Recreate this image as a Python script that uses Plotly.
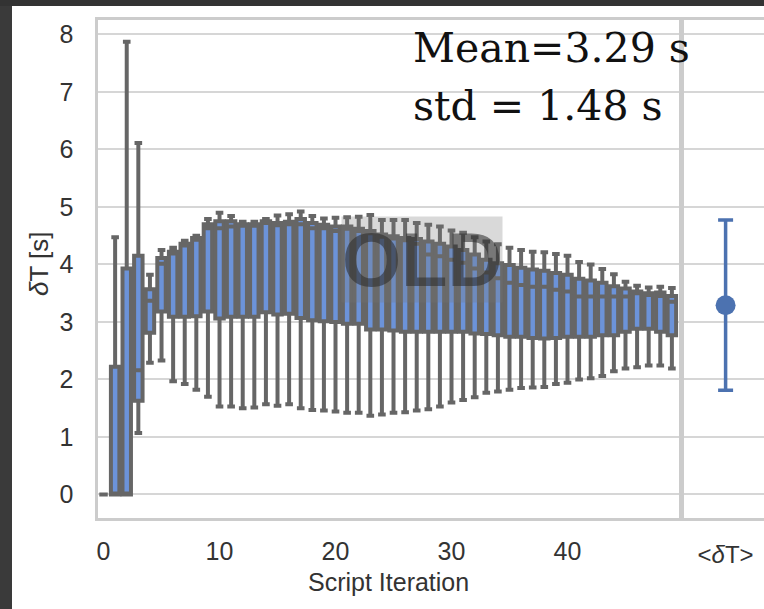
import plotly.graph_objects as go

# ---------------- data ----------------
iterations = list(range(50))

upper_whisker = [0.00, 4.47, 7.87, 6.11, 3.82, 4.25, 4.29, 4.41, 4.50, 4.79,
                 4.90, 4.84, 4.74, 4.74, 4.79, 4.85, 4.87, 4.92, 4.84, 4.80,
                 4.81, 4.82, 4.83, 4.86, 4.77, 4.77, 4.77, 4.72, 4.69, 4.66,
                 4.59, 4.55, 4.47, 4.40, 4.35, 4.29, 4.25, 4.22, 4.21, 4.18,
                 4.15, 4.04, 4.00, 3.92, 3.83, 3.70, 3.63, 3.60, 3.61, 3.59]

q3_values = [0.00, 2.22, 3.93, 4.15, 3.57, 4.11, 4.22, 4.36, 4.46, 4.70,
             4.75, 4.75, 4.70, 4.70, 4.75, 4.72, 4.74, 4.79, 4.72, 4.69,
             4.66, 4.66, 4.62, 4.58, 4.52, 4.49, 4.46, 4.44, 4.40, 4.36,
             4.31, 4.25, 4.17, 4.08, 4.02, 3.99, 3.94, 3.91, 3.89, 3.85,
             3.82, 3.75, 3.72, 3.68, 3.62, 3.58, 3.53, 3.50, 3.51, 3.45]

median_values = [0.00, 0.00, 0.00, 2.16, 3.37, 4.01, 4.19, 4.33, 4.43, 4.63,
                 4.63, 4.66, 4.67, 4.67, 4.72, 4.68, 4.70, 4.70, 4.63, 4.63,
                 4.58, 4.62, 4.58, 4.54, 4.48, 4.45, 4.42, 4.36, 4.17, 4.14,
                 4.08, 4.03, 3.93, 3.86, 3.76, 3.68, 3.64, 3.61, 3.61, 3.56,
                 3.53, 3.44, 3.44, 3.44, 3.44, 3.44, 3.50, 3.47, 3.45, 3.35]

q1_values = [0.00, 0.00, 0.00, 1.63, 2.81, 3.18, 3.09, 3.09, 3.10, 3.18,
             3.06, 3.09, 3.09, 3.09, 3.17, 3.13, 3.14, 3.07, 3.03, 3.01,
             3.00, 2.97, 2.97, 2.87, 2.87, 2.85, 2.83, 2.83, 2.83, 2.83,
             2.83, 2.83, 2.80, 2.79, 2.77, 2.74, 2.74, 2.72, 2.71, 2.72,
             2.74, 2.74, 2.74, 2.77, 2.77, 2.83, 2.88, 2.88, 2.83, 2.77]

lower_whisker = [0.00, 0.00, 0.00, 1.07, 2.29, 2.33, 1.97, 1.92, 1.82, 1.70,
                 1.53, 1.53, 1.50, 1.51, 1.57, 1.54, 1.57, 1.50, 1.47, 1.46,
                 1.44, 1.42, 1.42, 1.37, 1.39, 1.42, 1.43, 1.46, 1.48, 1.53,
                 1.60, 1.64, 1.69, 1.77, 1.79, 1.82, 1.85, 1.86, 1.87, 1.92,
                 1.94, 2.00, 2.02, 2.06, 2.14, 2.19, 2.21, 2.24, 2.24, 2.19]

mean_dt = 3.29
std_dt = 1.48
summary_label = "&lt;<i>δ</i>T&gt;"

x_tick_vals = [0, 10, 20, 30, 40]
y_tick_vals = [0, 1, 2, 3, 4, 5, 6, 7, 8]

# ---------------- layout helpers ----------------
W, H = 764, 609


def px(x):
    return x / W


def py(y):
    return 1 - y / H


SANS = "Liberation Sans, Arial, sans-serif"
TICK_COLOR = "#333333"
SPINE = "#cccccc"
GRID = "#d6d6d6"

fig = go.Figure()

fig.add_trace(go.Box(
    x=iterations,
    q1=q1_values,
    median=median_values,
    q3=q3_values,
    lowerfence=lower_whisker,
    upperfence=upper_whisker,
    width=0.73,
    whiskerwidth=0.9,
    fillcolor="#6c93d9",
    line=dict(color="#666666", width=4),
    boxpoints=False,
    showlegend=False,
    xaxis="x", yaxis="y",
))

fig.add_trace(go.Scatter(
    x=[summary_label],
    y=[mean_dt],
    mode="markers",
    marker=dict(color="#4c72b0", size=20),
    error_y=dict(type="data", array=[std_dt], color="#4c72b0",
                 thickness=3.5, width=7.5),
    showlegend=False,
    xaxis="x2", yaxis="y2",
))

y_domain = [py(518), py(20)]
y_range = [-0.41, 8.25]

fig.update_layout(
    width=W, height=H,
    margin=dict(l=0, r=0, t=0, b=0, autoexpand=False),
    paper_bgcolor="white",
    plot_bgcolor="white",
    xaxis=dict(
        domain=[px(97.5), px(678.5)],
        range=[-0.52, 49.57],
        tickvals=x_tick_vals,
        showgrid=False, zeroline=False,
        showline=True, linecolor=SPINE, linewidth=3, mirror=True,
        ticks="", ticklabelstandoff=9,
        tickfont=dict(family=SANS, size=25, color=TICK_COLOR),
        anchor="y",
    ),
    yaxis=dict(
        domain=y_domain,
        range=y_range,
        tickvals=y_tick_vals,
        showgrid=True, gridcolor=GRID, gridwidth=2,
        zeroline=False,
        showline=True, linecolor=SPINE, linewidth=3, mirror=True,
        ticks="", ticklabelstandoff=16,
        tickfont=dict(family=SANS, size=25, color=TICK_COLOR),
        anchor="x",
    ),
    xaxis2=dict(
        domain=[px(684), 1.0],
        type="category",
        range=[-0.52, 0.48],
        showgrid=False, zeroline=False,
        showline=True, linecolor=SPINE, linewidth=3, mirror=True,
        ticks="", ticklabelstandoff=13,
        tickfont=dict(family=SANS, size=24, color=TICK_COLOR),
        anchor="y2",
    ),
    yaxis2=dict(
        domain=y_domain,
        range=y_range,
        tickvals=y_tick_vals,
        showticklabels=False,
        showgrid=True, gridcolor=GRID, gridwidth=2,
        zeroline=False,
        showline=True, linecolor=SPINE, linewidth=3, mirror=False,
        ticks="",
        anchor="x2",
    ),
    shapes=[
        dict(type="rect", xref="paper", yref="paper",
             x0=0, x1=px(12), y0=0, y1=1,
             fillcolor="#3a3a3a", line=dict(width=0), layer="below"),
        dict(type="rect", xref="paper", yref="paper",
             x0=0, x1=1, y0=py(6), y1=1,
             fillcolor="#333333", line=dict(width=0), layer="below"),
    ],
    annotations=[
        dict(text="<i>δ</i>T [s]", xref="paper", yref="paper",
             x=px(39), y=py(264), textangle=-90, showarrow=False,
             xanchor="center", yanchor="middle",
             font=dict(family=SANS, size=26, color=TICK_COLOR)),
        dict(text="Script Iteration", xref="paper", yref="paper",
             x=px(388), y=py(582), showarrow=False,
             xanchor="center", yanchor="middle",
             font=dict(family=SANS, size=25, color=TICK_COLOR)),
        dict(text=f"Mean={mean_dt:.2f} s", xref="paper", yref="paper",
             x=px(411), y=py(48), showarrow=False,
             xanchor="left", yanchor="middle",
             font=dict(family="DejaVu Serif, serif", size=41, color="#111111")),
        dict(text=f"std = {std_dt:.2f} s", xref="paper", yref="paper",
             x=px(411), y=py(106), showarrow=False,
             xanchor="left", yanchor="middle",
             font=dict(family="DejaVu Serif, serif", size=41, color="#111111")),
        dict(text="<b>OLD</b>", xref="paper", yref="paper",
             x=px(422), y=py(259), showarrow=False,
             xanchor="center", yanchor="middle",
             bgcolor="rgba(120,120,120,0.28)", borderpad=0,
             font=dict(family=SANS, size=76, color="rgba(40,40,40,0.55)")),
    ],
)

fig.write_html(
    "out.html",
    config={"displayModeBar": False},
    post_script="document.body.style.margin='0';document.body.style.padding='0';"
                "document.body.style.overflow='hidden';",
)
